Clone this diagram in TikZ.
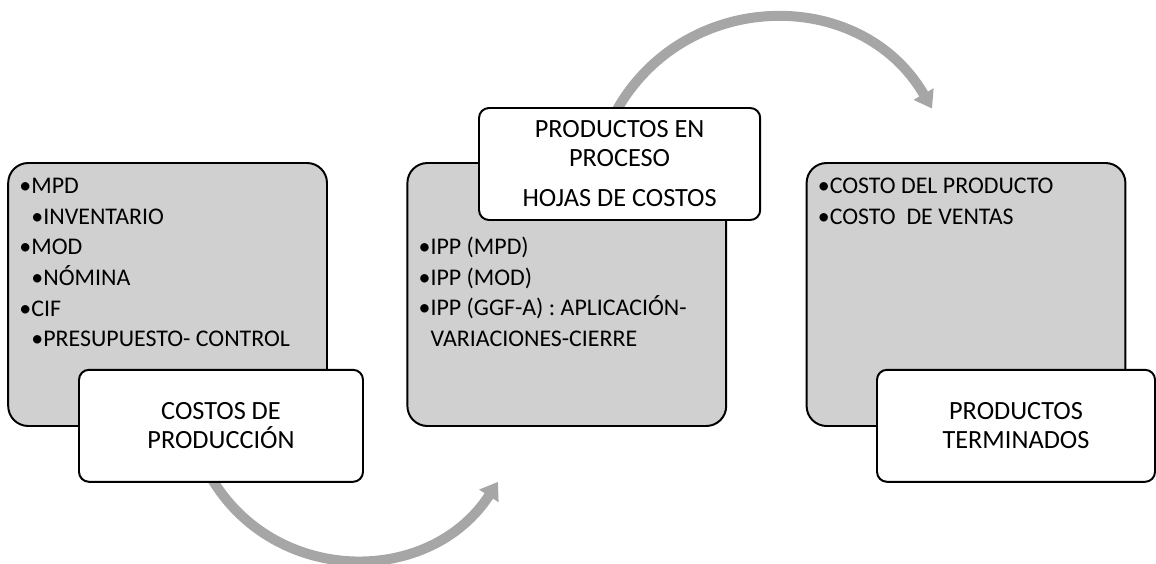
\documentclass[tikz,border=0pt]{standalone}
\usepackage{fontspec}
\setmainfont{Carlito}
\usetikzlibrary{arrows.meta,backgrounds}

\definecolor{boxgray}{RGB}{208,208,208}
\definecolor{arrowgray}{RGB}{166,166,166}

\begin{document}
\begin{tikzpicture}[
	graybox/.style={draw, line width=1.4pt, fill=boxgray, rounded corners=0.5cm, minimum width=7.97cm, minimum height=6.575cm, inner sep=0pt},
	notebox/.style={draw, line width=1.4pt, fill=white, rounded corners=0.25cm, minimum width=7.1cm, minimum height=2.8cm, inner sep=0pt, align=center, font=\fontsize{18.7}{20.6}\selectfont},
	itemlist/.style={anchor=north west, inner sep=0pt, align=left, font=\fontsize{17}{21.8}\selectfont},
	flowarrow/.style={draw=arrowgray, line width=0.25cm, -{Triangle[width=0.55cm, length=0.42cm]}}
]
	\def\subind{\hspace*{0.3cm}}
	\def\hang{\phantom{•}}
	\useasboundingbox (0,0) rectangle (28.9,14.075);

	% costos de produccion
	\begin{scope}
		\node[graybox] (cpbox) at (4.19,6.7125) {};
		\node[itemlist] (cplist) at (0.48,9.63) {•MPD\\\subind•INVENTARIO\\•MOD\\\subind•NÓMINA\\•CIF\\\subind•PRESUPUESTO- CONTROL};
		\node[notebox] (cplabel) at (5.525,3.43) {COSTOS DE\\PRODUCCIÓN};
	\end{scope}

	% productos en proceso
	\begin{scope}[xshift=9.98cm]
		\node[graybox] (ppbox) at (4.19,6.7125) {};
		\node[itemlist] (pplist) at (0.48,8.153) {•IPP (MPD)\\•IPP (MOD)\\•IPP (GGF-A) : APLICACIÓN-\\\hang VARIACIONES-CIERRE};
		\node[notebox, minimum width=7.03cm] (ppnote) at (5.51,9.975) {PRODUCTOS EN\\PROCESO\\[0.275cm]HOJAS DE COSTOS};
	\end{scope}

	% productos terminados
	\begin{scope}[xshift=19.96cm]
		\node[graybox] (ptbox) at (4.19,6.7125) {};
		\node[itemlist] (ptlist) at (0.48,9.63) {•COSTO DEL PRODUCTO\\•COSTO~ DE VENTAS};
		\node[notebox, minimum width=6.95cm] (ptlabel) at (5.44,3.43) {PRODUCTOS\\TERMINADOS};
	\end{scope}

	% curved arrows behind the boxes
	\coordinate (arcAstart) at ([shift={(-0.265,0.16)}]cplabel.south);
	\coordinate (arcAend) at (12.45,2.03);
	\coordinate (arcBstart) at ([shift={(-0.13,-0.185)}]ppnote.north);
	\coordinate (arcBend) at (23.3,11.36);
	\begin{pgfonlayer}{background}
		\draw[flowarrow] (arcAstart) to[out=-60, in=-123, looseness=1.12] (arcAend);
		\draw[flowarrow] (arcBstart) to[out=62, in=120, looseness=1.15] (arcBend);
	\end{pgfonlayer}
\end{tikzpicture}
\end{document}
